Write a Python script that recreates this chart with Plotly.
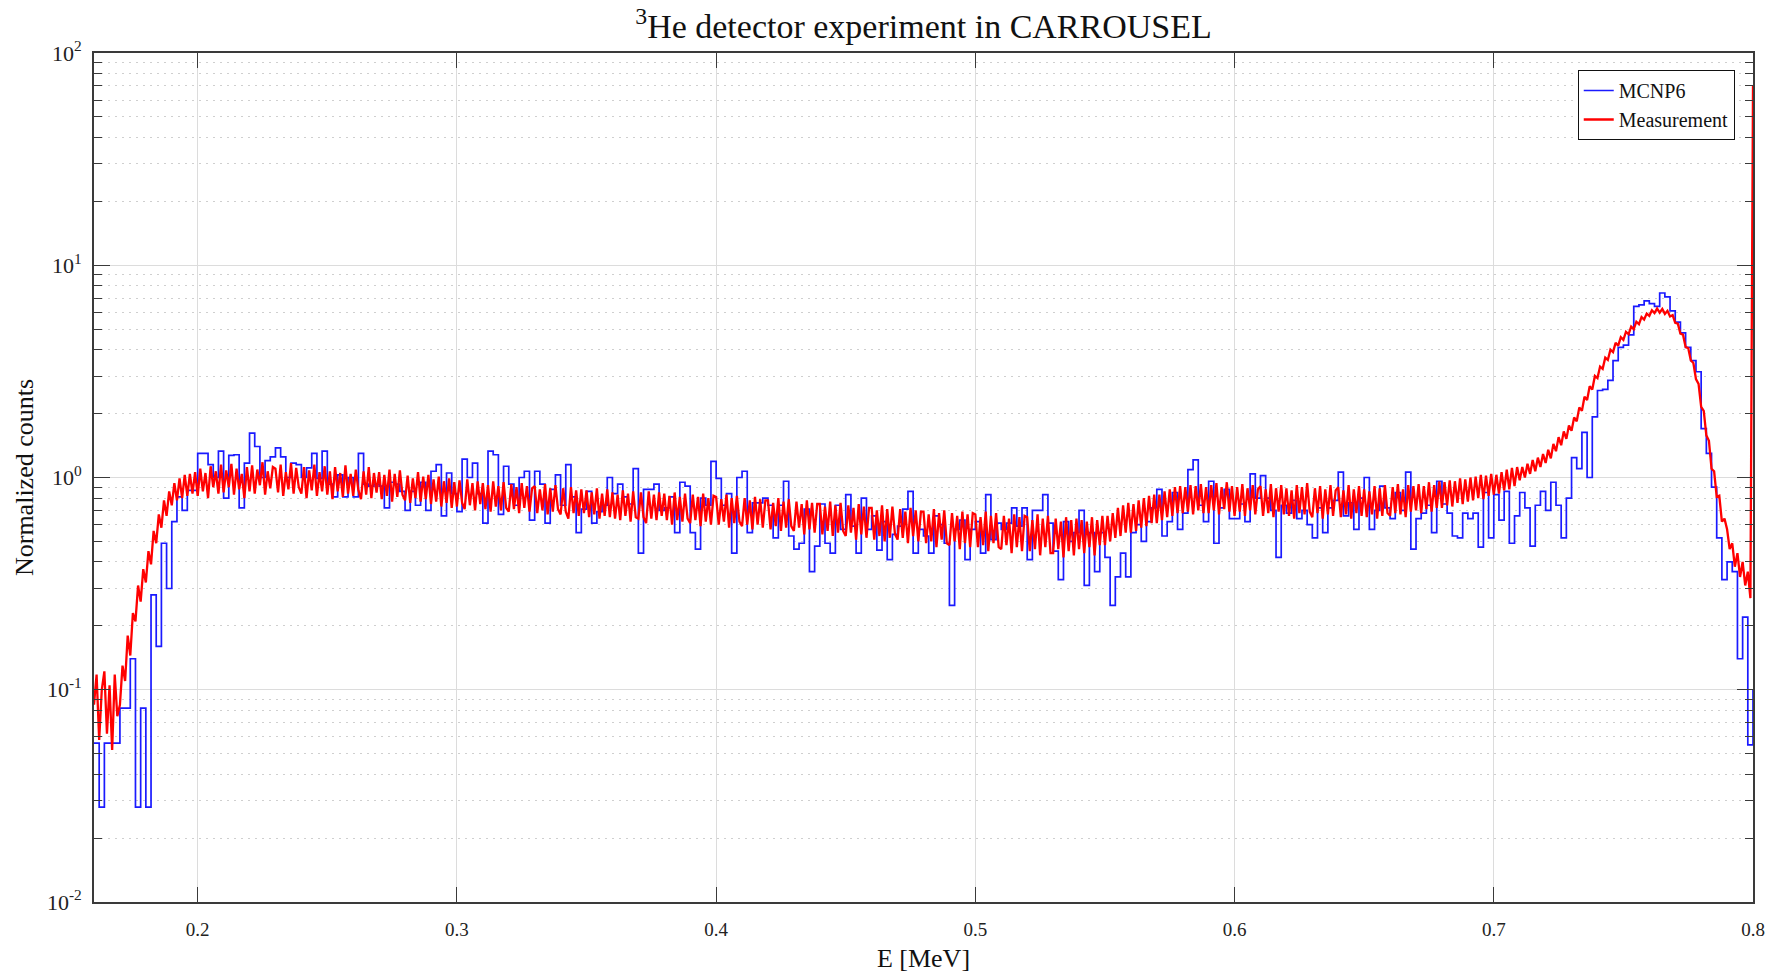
import numpy as np
import plotly.graph_objects as go

TITLE = "<sup>3</sup>He detector experiment in CARROUSEL"
X_LABEL = "E [MeV]"
Y_LABEL = "Normalized counts"
SERIES_NAMES = ["MCNP6", "Measurement"]
X_TICKS = [0.2, 0.3, 0.4, 0.5, 0.6, 0.7, 0.8]
X_TICK_LABELS = ["0.2", "0.3", "0.4", "0.5", "0.6", "0.7", "0.8"]
Y_TICKS = [0.01, 0.1, 1, 10, 100]
Y_TICK_LABELS = ["10<sup>-2</sup>", "10<sup>-1</sup>", "10<sup>0</sup>", "10<sup>1</sup>", "10<sup>2</sup>"]

# MCNP6 histogram: bins of 0.002 MeV starting at 0.160 MeV (last value = upper edge at 0.8 MeV)
MCNP6_E_START = 0.160
MCNP6_BIN = 0.002
mcnp6_counts = [
    0.056, 0.028, 0.056, 0.056, 0.056, 0.082, 0.082, 0.14, 0.028, 0.082,
    0.028, 0.28, 0.16, 0.49, 0.30, 0.62, 0.81, 0.70, 0.87, 0.87,
    1.30, 1.30, 1.15, 1.00, 1.33, 0.80, 1.27, 1.28, 0.72, 1.17,
    1.62, 1.40, 1.00, 1.20, 1.25, 1.38, 1.25, 1.00, 1.17, 1.15,
    1.00, 1.11, 1.30, 0.99, 1.33, 0.93, 0.81, 1.03, 0.81, 1.00,
    0.81, 1.30, 0.93, 0.91, 0.93, 0.91, 0.72, 0.95, 0.93, 0.86,
    0.70, 0.86, 0.74, 0.95, 0.70, 1.07, 1.15, 0.66, 1.05, 0.84,
    0.69, 1.22, 1.00, 1.17, 0.84, 0.61, 1.33, 1.28, 0.67, 1.13,
    0.93, 0.74, 1.00, 1.07, 0.63, 1.07, 0.93, 0.61, 0.88, 1.03,
    0.74, 1.15, 0.81, 0.55, 0.71, 0.86, 0.61, 0.69, 0.74, 1.00,
    0.84, 0.93, 0.81, 0.75, 1.10, 0.44, 0.88, 0.88, 0.93, 0.70,
    0.72, 0.81, 0.55, 0.95, 0.91, 0.55, 0.46, 0.80, 0.74, 1.19,
    0.99, 0.74, 0.84, 0.44, 1.00, 1.07, 0.55, 0.76, 0.76, 0.80,
    0.74, 0.52, 0.74, 0.96, 0.53, 0.46, 0.49, 0.71, 0.36, 0.475,
    0.75, 0.49, 0.44, 0.74, 0.57, 0.83, 0.59, 0.44, 0.80, 0.57,
    0.66, 0.455, 0.62, 0.41, 0.54, 0.59, 0.71, 0.86, 0.44, 0.57,
    0.53, 0.44, 0.66, 0.60, 0.49, 0.25, 0.57, 0.63, 0.41, 0.57,
    0.62, 0.44, 0.83, 0.51, 0.61, 0.57, 0.61, 0.72, 0.59, 0.72,
    0.41, 0.70, 0.70, 0.83, 0.61, 0.45, 0.33, 0.62, 0.50, 0.55,
    0.70, 0.31, 0.55, 0.36, 0.55, 0.42, 0.25, 0.34, 0.44, 0.34,
    0.55, 0.60, 0.50, 0.62, 0.72, 0.88, 0.53, 0.62, 0.85, 0.57,
    0.68, 1.09, 1.21, 0.74, 0.62, 0.96, 0.49, 0.72, 0.88, 0.64,
    0.64, 0.75, 0.62, 1.04, 0.80, 1.02, 0.80, 0.70, 0.42, 0.74,
    0.68, 0.78, 0.64, 0.70, 0.60, 0.52, 0.72, 0.55, 0.72, 0.78,
    1.06, 0.66, 0.76, 0.57, 0.80, 1.00, 0.57, 0.70, 0.91, 0.72,
    0.64, 0.85, 0.70, 1.06, 0.46, 0.64, 0.68, 0.74, 0.55, 0.96,
    0.75, 0.68, 0.53, 0.52, 0.68, 0.64, 0.68, 0.47, 0.85, 0.52,
    0.83, 0.63, 0.86, 0.49, 0.66, 0.85, 0.72, 0.475, 0.74, 0.86,
    0.70, 0.95, 0.74, 0.52, 0.80, 1.24, 1.10, 1.63, 1.00, 1.93,
    2.57, 2.60, 2.87, 3.55, 4.10, 4.20, 4.70, 6.40, 6.50, 6.80,
    6.60, 6.40, 7.40, 7.10, 6.10, 5.40, 4.80, 4.10, 3.55, 3.15,
    1.70, 1.30, 0.90, 0.52, 0.33, 0.40, 0.36, 0.14, 0.22, 0.055,
    0.10,
]

# Measurement: channels every 0.001 MeV starting at 0.160 MeV
MEAS_E_START = 0.160
MEAS_STEP = 0.001
measurement_counts = [
    0.085, 0.118, 0.058, 0.10, 0.122, 0.062, 0.105, 0.052, 0.118, 0.075,
    0.085, 0.13, 0.11, 0.18, 0.145, 0.23, 0.21, 0.31, 0.26, 0.37,
    0.32, 0.45, 0.39, 0.56, 0.49, 0.67, 0.58, 0.78, 0.66, 0.86,
    0.74, 0.94, 0.78, 0.99, 0.80, 1.03, 0.82, 1.04, 0.84, 1.06,
    0.82, 1.10, 0.86, 1.05, 0.80, 1.13, 0.90, 1.07, 0.84, 1.15,
    0.85, 1.08, 0.90, 1.16, 0.83, 1.10, 0.88, 1.04, 0.80, 1.12,
    0.86, 1.14, 0.84, 1.09, 0.92, 1.18, 0.83, 1.07, 0.89, 1.12,
    1.10, 0.85, 1.15, 0.82, 1.06, 0.88, 1.17, 0.84, 1.11, 0.90,
    0.84, 1.12, 0.80, 1.08, 0.87, 1.15, 0.82, 1.06, 0.86, 1.13,
    0.83, 1.07, 0.79, 1.12, 0.86, 1.05, 0.81, 1.14, 0.84, 1.04,
    0.82, 1.09, 0.87, 0.79, 1.07, 0.83, 1.12, 0.80, 1.05, 0.85,
    1.06, 0.79, 1.03, 0.82, 1.09, 0.77, 1.04, 0.81, 1.08, 0.83,
    0.78, 1.02, 0.76, 0.99, 0.80, 1.06, 0.77, 1.01, 0.79, 1.03,
    0.75, 0.98, 0.77, 1.01, 0.73, 0.96, 0.76, 0.99, 0.72, 0.95,
    0.73, 0.97, 0.76, 0.71, 0.98, 0.74, 0.94, 0.70, 0.96, 0.75,
    0.94, 0.71, 0.92, 0.69, 0.96, 0.73, 0.91, 0.70, 0.95, 0.72,
    0.69, 0.93, 0.71, 0.90, 0.68, 0.94, 0.72, 0.91, 0.69, 0.89,
    0.91, 0.68, 0.88, 0.70, 0.93, 0.67, 0.89, 0.69, 0.92, 0.71,
    0.67, 0.89, 0.69, 0.64, 0.90, 0.68, 0.87, 0.66, 0.88, 0.68,
    0.87, 0.65, 0.85, 0.67, 0.89, 0.64, 0.84, 0.66, 0.88, 0.65,
    0.85, 0.64, 0.83, 0.63, 0.87, 0.66, 0.84, 0.62, 0.86, 0.65,
    0.64, 0.85, 0.65, 0.61, 0.86, 0.64, 0.83, 0.63, 0.85, 0.66,
    0.84, 0.63, 0.82, 0.60, 0.85, 0.63, 0.81, 0.62, 0.84, 0.64,
    0.61, 0.83, 0.63, 0.81, 0.59, 0.84, 0.62, 0.80, 0.60, 0.82,
    0.81, 0.60, 0.79, 0.62, 0.83, 0.58, 0.80, 0.61, 0.82, 0.62,
    0.59, 0.80, 0.60, 0.78, 0.57, 0.81, 0.60, 0.79, 0.58, 0.78,
    0.78, 0.57, 0.76, 0.59, 0.80, 0.56, 0.77, 0.58, 0.79, 0.59,
    0.56, 0.77, 0.58, 0.75, 0.54, 0.78, 0.57, 0.76, 0.55, 0.75,
    0.75, 0.54, 0.73, 0.56, 0.77, 0.53, 0.74, 0.55, 0.76, 0.56,
    0.53, 0.74, 0.55, 0.72, 0.51, 0.75, 0.54, 0.73, 0.52, 0.72,
    0.72, 0.51, 0.70, 0.53, 0.74, 0.50, 0.71, 0.52, 0.73, 0.54,
    0.51, 0.71, 0.52, 0.69, 0.49, 0.72, 0.53, 0.70, 0.50, 0.69,
    0.69, 0.49, 0.67, 0.50, 0.71, 0.47, 0.68, 0.51, 0.70, 0.49,
    0.48, 0.68, 0.50, 0.66, 0.46, 0.69, 0.49, 0.67, 0.47, 0.68,
    0.67, 0.47, 0.65, 0.48, 0.69, 0.45, 0.66, 0.49, 0.68, 0.47,
    0.46, 0.66, 0.48, 0.64, 0.44, 0.67, 0.47, 0.65, 0.45, 0.66,
    0.65, 0.45, 0.63, 0.46, 0.67, 0.43, 0.64, 0.47, 0.66, 0.44,
    0.44, 0.64, 0.46, 0.62, 0.42, 0.65, 0.45, 0.63, 0.43, 0.64,
    0.46, 0.63, 0.44, 0.62, 0.47, 0.65, 0.43, 0.63, 0.48, 0.66,
    0.48, 0.66, 0.50, 0.68, 0.52, 0.72, 0.53, 0.74, 0.55, 0.76,
    0.55, 0.75, 0.56, 0.78, 0.58, 0.80, 0.59, 0.82, 0.61, 0.83,
    0.61, 0.83, 0.63, 0.86, 0.65, 0.88, 0.66, 0.90, 0.68, 0.91,
    0.68, 0.90, 0.69, 0.92, 0.67, 0.91, 0.70, 0.93, 0.68, 0.90,
    0.68, 0.92, 0.70, 0.94, 0.67, 0.90, 0.71, 0.95, 0.69, 0.91,
    0.66, 0.90, 0.69, 0.93, 0.66, 0.89, 0.70, 0.92, 0.67, 0.88,
    0.91, 0.66, 0.88, 0.68, 0.93, 0.65, 0.89, 0.69, 0.92, 0.67,
    0.89, 0.66, 0.87, 0.64, 0.92, 0.68, 0.90, 0.67, 0.94, 0.69,
    0.65, 0.89, 0.68, 0.91, 0.64, 0.88, 0.67, 0.92, 0.66, 0.87,
    0.90, 0.65, 0.87, 0.67, 0.92, 0.64, 0.88, 0.68, 0.91, 0.66,
    0.88, 0.65, 0.86, 0.67, 0.91, 0.64, 0.89, 0.66, 0.92, 0.68,
    0.66, 0.90, 0.68, 0.93, 0.67, 0.88, 0.65, 0.92, 0.69, 0.91,
    0.70, 0.93, 0.68, 0.91, 0.71, 0.95, 0.69, 0.92, 0.72, 0.96,
    0.72, 0.95, 0.74, 0.97, 0.73, 0.96, 0.76, 0.99, 0.75, 0.98,
    0.77, 1.00, 0.78, 1.01, 0.80, 1.03, 0.79, 1.02, 0.82, 1.04,
    0.83, 1.03, 0.84, 1.06, 0.87, 1.09, 0.88, 1.11, 0.91, 1.12,
    0.97, 1.12, 1.00, 1.16, 1.04, 1.21, 1.07, 1.24, 1.12, 1.29,
    1.17, 1.35, 1.23, 1.44, 1.33, 1.55, 1.42, 1.65, 1.52, 1.76,
    1.66, 1.92, 1.84, 2.14, 2.06, 2.40, 2.32, 2.69, 2.60, 3.01,
    2.94, 3.33, 3.25, 3.67, 3.58, 4.00, 3.90, 4.31, 4.18, 4.58,
    4.45, 4.86, 4.73, 5.14, 5.00, 5.42, 5.28, 5.70, 5.55, 5.92,
    5.78, 6.14, 5.95, 6.25, 5.98, 6.22, 5.90, 6.10, 5.74, 5.82,
    5.35, 5.30, 4.76, 4.71, 4.12, 4.07, 3.57, 3.46, 2.91, 2.76,
    2.15, 2.06, 1.58, 1.49, 1.10, 1.07, 0.81, 0.82, 0.62, 0.64,
    0.57, 0.46, 0.49, 0.38, 0.44, 0.34, 0.40, 0.31, 0.36, 0.27,
    70.0,
]

mcnp6_E = np.round(MCNP6_E_START + MCNP6_BIN * np.arange(len(mcnp6_counts)), 4)
meas_E = np.round(MEAS_E_START + MEAS_STEP * np.arange(len(measurement_counts)), 4)

minor_y = [m * 10.0 ** e for e in range(-2, 2) for m in range(2, 10)]

FONT = "Liberation Serif, Times New Roman, serif"
AX = "#3a3a3a"

fig = go.Figure()
fig.add_trace(go.Scatter(
    x=mcnp6_E, y=mcnp6_counts, mode="lines", name=SERIES_NAMES[0],
    line=dict(color="#1a1aff", width=1.7, shape="hv"),
))
fig.add_trace(go.Scatter(
    x=meas_E, y=measurement_counts, mode="lines", name=SERIES_NAMES[1],
    line=dict(color="#ff0000", width=2.3),
))

fig.update_layout(
    width=1781, height=980,
    margin=dict(l=94, r=28, t=53, b=71),
    paper_bgcolor="white", plot_bgcolor="white",
    font=dict(family=FONT, color="#111111", size=18),
    title=dict(text=TITLE, x=0.5, xref="paper", xanchor="center",
               y=1 - 26 / 980, yref="container", yanchor="middle",
               font=dict(family=FONT, size=34, color="#111111")),
    legend=dict(x=0.989, y=0.98, xanchor="right", yanchor="top",
                bgcolor="white", bordercolor="#111111", borderwidth=1,
                font=dict(family=FONT, size=20, color="#111111"),
                tracegroupgap=0, itemwidth=30),
    showlegend=True,
)

fig.update_xaxes(
    range=[0.16, 0.8], tickmode="array", tickvals=X_TICKS, ticktext=X_TICK_LABELS,
    ticks="inside", ticklen=15, tickwidth=1.3, tickcolor=AX,
    showline=True, linecolor=AX, linewidth=1.6, mirror="ticks",
    showgrid=True, gridcolor="#dcdcdc", gridwidth=1, zeroline=False,
    tickfont=dict(family=FONT, size=19, color="#222222"),
    ticklabelstandoff=9,
    title=dict(text=X_LABEL, font=dict(family=FONT, size=26, color="#111111"), standoff=10),
)
fig.update_yaxes(
    type="log", range=[-2, 2], tickmode="array", tickvals=Y_TICKS, ticktext=Y_TICK_LABELS,
    ticks="inside", ticklen=16, tickwidth=1.3, tickcolor=AX,
    showline=True, linecolor=AX, linewidth=1.6, mirror="ticks",
    showgrid=True, gridcolor="#dcdcdc", gridwidth=1, zeroline=False,
    tickfont=dict(family=FONT, size=22, color="#222222"),
    ticklabelstandoff=6,
    minor=dict(tickmode="array", tickvals=minor_y, ticks="inside", ticklen=8,
               tickwidth=1.2, tickcolor=AX, showgrid=True,
               gridcolor="#cfcfcf", griddash="2px,5px", gridwidth=1),
    title=dict(text=Y_LABEL, font=dict(family=FONT, size=26, color="#111111"), standoff=6),
)

fig.write_html("out.html")
